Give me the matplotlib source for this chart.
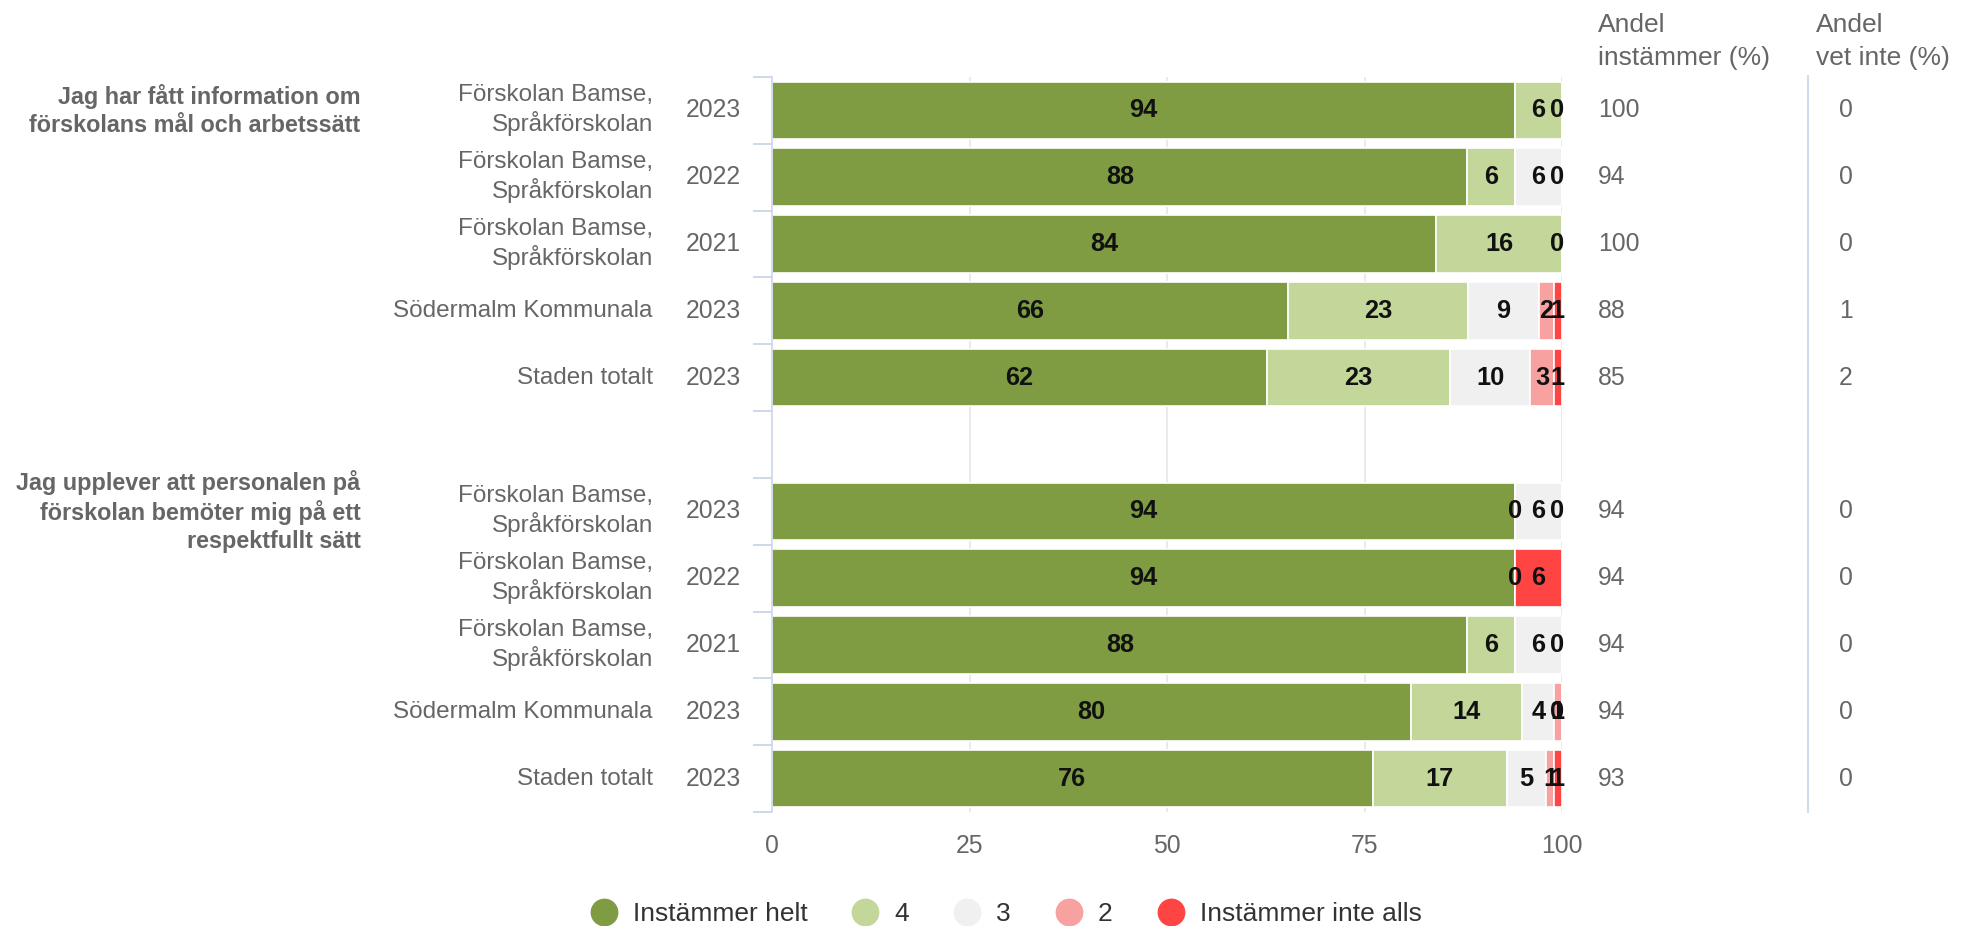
import numpy as np
import matplotlib
matplotlib.use("Agg")
import matplotlib.pyplot as plt
import matplotlib.transforms as mtransforms
from matplotlib.lines import Line2D

plt.rcParams['font.family'] = ['Liberation Sans', 'DejaVu Sans']

# =============================================================================
# data
# =============================================================================
nan = np.nan
group_titles = [
    "Jag har fått information om\nförskolans mål och arbetssätt",
    "Jag upplever att personalen på\nförskolan bemöter mig på ett\nrespektfullt sätt",
]
units = ["Förskolan Bamse,\nSpråkförskolan"] * 3 + ["Södermalm Kommunala", "Staden totalt"]
years = ["2023", "2022", "2021", "2023", "2023"]
series_names = ["Instämmer helt", "4", "3", "2", "Instämmer inte alls"]
series_colors = ["#7f9c43", "#c4d79b", "#f0f0f0", "#f7a1a1", "#ff4444"]

q1_values = [[94, 6, 0, nan, nan],
             [88, 6, 6, 0, nan],
             [84, 16, 0, nan, nan],
             [66, 23, 9, 2, 1],
             [62, 23, 10, 3, 1]]
q2_values = [[94, 0, 6, 0, nan],
             [94, 0, nan, nan, 6],
             [88, 6, 6, 0, nan],
             [80, 14, 4, 1, 0],
             [76, 17, 5, 1, 1]]
q1_agree = [100, 94, 100, 88, 85]
q1_dont_know = [0, 0, 0, 1, 2]
q2_agree = [94, 94, 94, 94, 93]
q2_dont_know = [0, 0, 0, 0, 0]

groups = [(q1_values, q1_agree, q1_dont_know), (q2_values, q2_agree, q2_dont_know)]

GRAY = "#666666"
FS = 17.5

fig = plt.figure(figsize=(19.7, 9.26), dpi=100)
ax = fig.add_axes([0.392, 0.123, 0.401, 0.794])

for gx in [25, 50, 75, 100]:
    ax.axvline(gx, color="#e6e6e6", lw=1.2, zorder=0)

trans = mtransforms.blended_transform_factory(fig.transFigure, ax.transData)

for gi, (values, agree, dont_know) in enumerate(groups):
    first_row = gi * 6
    fig.text(0.183, first_row, group_titles[gi], transform=trans, ha="right", va="center",
             fontsize=16.8, fontweight="bold", color=GRAY, linespacing=1.25)
    for ri, row in enumerate(values):
        y = first_row + ri
        total = np.nansum(row)
        left = 0.0
        for j, v in enumerate(row):
            if np.isnan(v):
                continue
            w = v / total * 100
            ax.barh(y, w, left=left, height=0.86, color=series_colors[j],
                    edgecolor="white", linewidth=1.2, zorder=2)
            lab = f"{int(v)}"
            cx = left + w / 2
            if cx + 0.85 * len(lab) > 100:
                ax.text(100.3, y, lab, ha="right", va="center", fontsize=18.3,
                        fontweight="bold", color="#111111", zorder=3)
            else:
                ax.text(cx, y, lab, ha="center", va="center", fontsize=18.3,
                        fontweight="bold", color="#111111", zorder=3)
            left += w
        fig.text(0.3314, y, units[ri], transform=trans, ha="right", va="center",
                 fontsize=FS, color=GRAY, linespacing=1.25)
        fig.text(0.362, y, years[ri], transform=trans, ha="center", va="center",
                 fontsize=17.8, color=GRAY)
        fig.text(0.811, y, f"{agree[ri]}", transform=trans, ha="left", va="center",
                 fontsize=17.8, color=GRAY)
        fig.text(0.937, y, f"{dont_know[ri]}", transform=trans, ha="center", va="center",
                 fontsize=17.8, color=GRAY)

ax.set_xlim(0, 100)
ax.set_ylim(10.5, -0.5)
ax.set_xticks([0, 25, 50, 75, 100])
ax.tick_params(axis="x", length=0, pad=16, labelsize=17.8, labelcolor=GRAY)
ax.set_yticks([])
ax.set_yticks(np.arange(-0.5, 11, 1), minor=True)
ax.tick_params(axis="y", which="minor", length=14, width=1.3, color="#ccd6eb")
for s in ["top", "right", "bottom"]:
    ax.spines[s].set_visible(False)
ax.spines["left"].set_color("#ccd6eb")
ax.spines["left"].set_linewidth(1.2)

# right-hand columns
fig.text(0.811, 0.986, "Andel\ninstämmer (%)", ha="left", va="top", fontsize=19,
         color=GRAY, linespacing=1.45)
fig.text(0.922, 0.986, "Andel\nvet inte (%)", ha="left", va="top", fontsize=19,
         color=GRAY, linespacing=1.45)
fig.add_artist(Line2D([0.918, 0.918], [0.123, 0.918], transform=fig.transFigure,
                      color="#ccd6eb", lw=1.3))

handles = [Line2D([], [], marker="o", ls="", markerfacecolor=c, markeredgecolor=c,
                  markersize=19) for c in series_colors]
fig.legend(handles, series_names, loc="center", bbox_to_anchor=(0.51, 0.013), ncol=5,
           frameon=False, fontsize=19, labelcolor="#333333", handletextpad=0.5,
           columnspacing=1.6, handlelength=1.2)

fig.savefig("out.png", dpi=100, facecolor="white")
